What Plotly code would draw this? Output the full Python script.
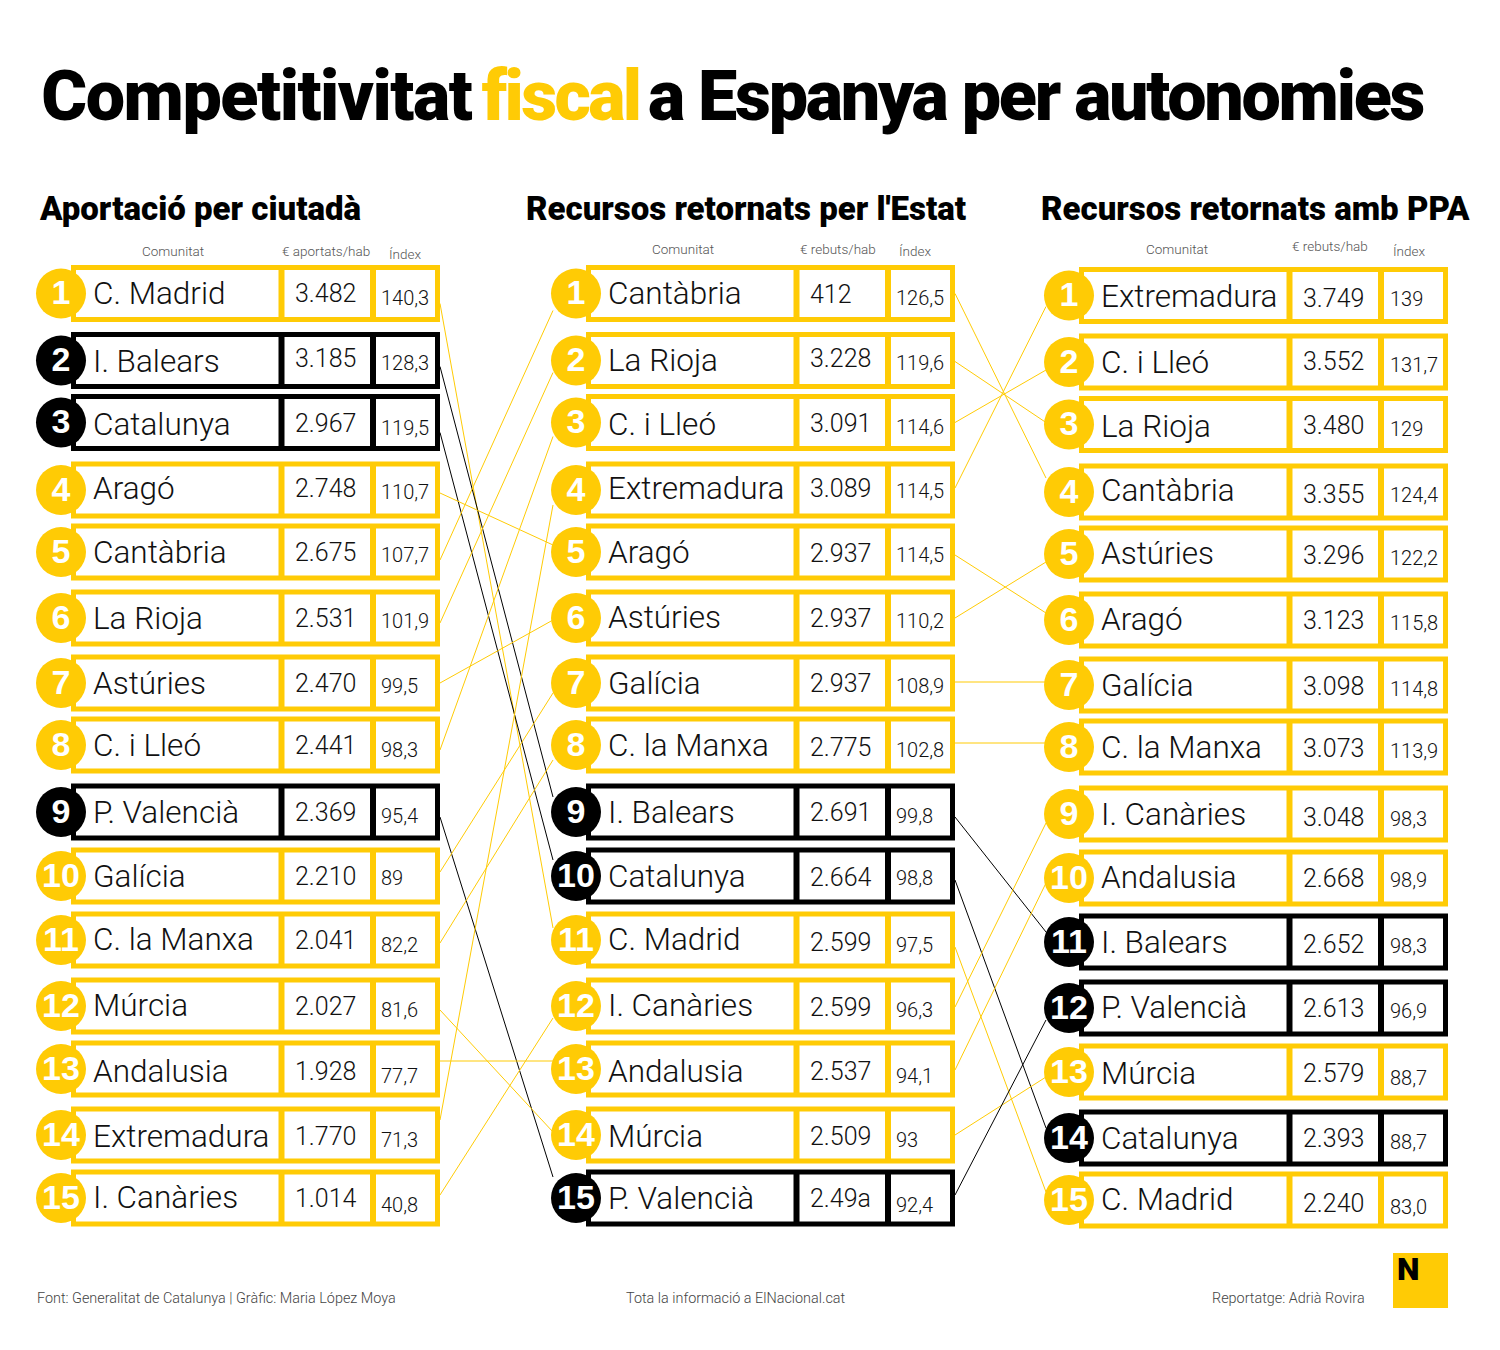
import plotly.graph_objects as go

YELLOW = "#FFCB05"
BLACK = "#000000"
HIGHLIGHT = ["I. Balears", "Catalunya", "P. Valencià"]

# --- data, one block per ranking ---
names_aport = ["C. Madrid", "I. Balears", "Catalunya", "Aragó", "Cantàbria", "La Rioja", "Astúries", "C. i Lleó",
               "P. Valencià", "Galícia", "C. la Manxa", "Múrcia", "Andalusia", "Extremadura", "I. Canàries"]
values_aport = ["3.482", "3.185", "2.967", "2.748", "2.675", "2.531", "2.470", "2.441",
                "2.369", "2.210", "2.041", "2.027", "1.928", "1.770", "1.014"]
index_aport = ["140,3", "128,3", "119,5", "110,7", "107,7", "101,9", "99,5", "98,3",
               "95,4", "89", "82,2", "81,6", "77,7", "71,3", "40,8"]

names_estat = ["Cantàbria", "La Rioja", "C. i Lleó", "Extremadura", "Aragó", "Astúries", "Galícia", "C. la Manxa",
               "I. Balears", "Catalunya", "C. Madrid", "I. Canàries", "Andalusia", "Múrcia", "P. Valencià"]
values_estat = ["412", "3.228", "3.091", "3.089", "2.937", "2.937", "2.937", "2.775",
                "2.691", "2.664", "2.599", "2.599", "2.537", "2.509", "2.49a"]
index_estat = ["126,5", "119,6", "114,6", "114,5", "114,5", "110,2", "108,9", "102,8",
               "99,8", "98,8", "97,5", "96,3", "94,1", "93", "92,4"]

names_ppa = ["Extremadura", "C. i Lleó", "La Rioja", "Cantàbria", "Astúries", "Aragó", "Galícia", "C. la Manxa",
             "I. Canàries", "Andalusia", "I. Balears", "P. Valencià", "Múrcia", "Catalunya", "C. Madrid"]
values_ppa = ["3.749", "3.552", "3.480", "3.355", "3.296", "3.123", "3.098", "3.073",
              "3.048", "2.668", "2.652", "2.613", "2.579", "2.393", "2.240"]
index_ppa = ["139", "131,7", "129", "124,4", "122,2", "115,8", "114,8", "113,9",
             "98,3", "98,9", "98,3", "96,9", "88,7", "88,7", "83,0"]

# --- layout of the three tables, page pixels ---
row_y_1 = [293.5, 360.5, 422.5, 490, 552, 618, 683, 745, 812, 876, 940, 1006, 1069, 1135, 1198]
name_y_1 = [296, 364, 427, 491, 555, 621, 686, 748, 815, 879, 942, 1008, 1074, 1139, 1200]
value_y_1 = [296, 361, 426, 491, 555, 621, 686, 748, 815, 879, 943, 1009, 1074, 1139, 1201]
index_y_1 = [300, 365, 430, 494, 557, 623, 688, 752, 818, 880, 947, 1012, 1078, 1142, 1207]

row_y_2 = [293.5, 360.5, 422.5, 490, 552, 618, 683, 745, 812, 876, 940, 1006, 1069, 1135, 1198]
name_y_2 = [296, 363, 427, 491, 555, 620, 686, 748, 815, 879, 942, 1008, 1074, 1139, 1201]
value_y_2 = [297, 361, 426, 491, 556, 621, 686, 750, 815, 880, 945, 1010, 1074, 1139, 1201]
index_y_2 = [300, 365, 429, 493, 557, 623, 688, 752, 818, 880, 947, 1012, 1078, 1142, 1207]

row_y_3 = [295.5, 362, 424.5, 492, 554, 620, 685, 747, 814, 878, 942, 1008, 1072, 1138, 1200]
name_y_3 = [299, 365, 429, 493, 556, 622, 688, 750, 817, 880, 945, 1010, 1076, 1141, 1202]
value_y_3 = [301, 364, 428, 497, 558, 623, 689, 751, 820, 881, 947, 1011, 1076, 1141, 1206]
index_y_3 = [301, 367, 431, 497, 560, 625, 691, 753, 821, 882, 948, 1013, 1080, 1144, 1209]

# nudges for where each connector leaves / enters, by rank in the left table
start_nudge_1 = [10, 6, 10, 3, 8, 5, 0, 5, 5, -4, 3, 4, -8, -15, -3]
end_nudge_1 = [-12, -15, -16, -7, 17, 12, 2, 14, -21, 10, 15, -3, -8, 15, 12]
start_nudge_2 = [0, 1, 0, -2, 3, 0, -1, -2, 5, 4, 7, 1, 1, 0, -3]
end_nudge_2 = [-14, -2, 8, 11, -7, 8, -3, -4, -10, -10, -8, 9, 5, 5, 12]

tables = [
    dict(names=names_aport, values=values_aport, index=index_aport, left=73.5, circle=61, value_x=295, index_x=381,
         row_y=row_y_1, name_y=name_y_1, value_y=value_y_1, index_y=index_y_1),
    dict(names=names_estat, values=values_estat, index=index_estat, left=588.5, circle=576, value_x=810, index_x=896,
         row_y=row_y_2, name_y=name_y_2, value_y=value_y_2, index_y=index_y_2),
    dict(names=names_ppa, values=values_ppa, index=index_ppa, left=1081.5, circle=1069, value_x=1303, index_x=1390,
         row_y=row_y_3, name_y=name_y_3, value_y=value_y_3, index_y=index_y_3),
]
BOX_W = 364
BOX_H = 52
DIV1 = 208
DIV2 = 299.5

LIGHT = "Roboto"


def colour(name):
    return BLACK if name in HIGHLIGHT else YELLOW


fig = go.Figure()
shapes = []

# connectors go first so the circles sit on top of them
pairs = [(tables[0], tables[1], start_nudge_1, end_nudge_1), (tables[1], tables[2], start_nudge_2, end_nudge_2)]
for left, right, start_nudge, end_nudge in pairs:
    for i, name in enumerate(left["names"]):
        j = right["names"].index(name)
        fig.add_trace(go.Scatter(
            x=[left["left"] + BOX_W + 2.5, right["circle"] - 23],
            y=[left["row_y"][i] + start_nudge[i], right["row_y"][j] + end_nudge[i]],
            mode="lines",
            line=dict(color=colour(name), width=1),
            hoverinfo="skip",
        ))

for t in tables:
    for name, y in zip(t["names"], t["row_y"]):
        c = colour(name)
        x0 = t["left"]
        shapes.append(dict(type="rect", x0=x0, x1=x0 + BOX_W, y0=y - BOX_H / 2, y1=y + BOX_H / 2,
                           line=dict(color=c, width=5), fillcolor="white", layer="below"))
        for d in (DIV1, DIV2):
            shapes.append(dict(type="line", x0=x0 + d, x1=x0 + d, y0=y - BOX_H / 2, y1=y + BOX_H / 2,
                               line=dict(color=c, width=6), layer="below"))

    fig.add_trace(go.Scatter(
        x=[t["circle"]] * 15, y=t["row_y"], mode="markers",
        marker=dict(size=50, color=[colour(n) for n in t["names"]], line=dict(width=0)),
        hoverinfo="skip",
    ))
    # numbers sit a touch below the circle centre in the original
    fig.add_trace(go.Scatter(
        x=[t["circle"]] * 15, y=[y + 2 for y in t["row_y"]], mode="text",
        text=[str(i + 1) for i in range(15)], textposition="middle center",
        textfont=dict(family="Liberation Sans", size=34, color="white", weight=700),
        hoverinfo="skip",
    ))
    fig.add_trace(go.Scatter(
        x=[t["left"] + 19.5] * 15, y=t["name_y"], mode="text", text=t["names"], textposition="middle right",
        textfont=dict(family=LIGHT, size=31.5, color="#111111", weight=300), hovertemplate="%{text}<extra></extra>",
    ))
    fig.add_trace(go.Scatter(
        x=[t["value_x"]] * 15, y=t["value_y"], mode="text", text=t["values"], textposition="middle right",
        textfont=dict(family=LIGHT, size=25, color="#111111", weight=300), hovertemplate="%{text}<extra></extra>",
    ))
    fig.add_trace(go.Scatter(
        x=[t["index_x"]] * 15, y=t["index_y"], mode="text", text=t["index"], textposition="middle right",
        textfont=dict(family=LIGHT, size=20, color="#111111", weight=300), hovertemplate="%{text}<extra></extra>",
    ))

# logo square
shapes.append(dict(type="rect", x0=1393, x1=1448, y0=1253, y1=1308, fillcolor=YELLOW, line=dict(width=0), layer="below"))


def label(x, y, text, size, family=LIGHT, color="#000000", weight=400, anchor="center"):
    return dict(x=x, y=y, text=text, showarrow=False, xanchor=anchor, yanchor="middle", xref="x", yref="y",
                font=dict(family=family, size=size, color=color, weight=weight))


annotations = [
    label(256, 96, "Competitivitat", 70, LIGHT, BLACK, 900),
    label(560, 96, "fiscal", 70, LIGHT, YELLOW, 900),
    label(1035.5, 96, "a Espanya per autonomies", 70, LIGHT, BLACK, 900),
    label(199.5, 208, "Aportació per ciutadà", 33, LIGHT, BLACK, 900),
    label(746, 208, "Recursos retornats per l'Estat", 33, LIGHT, BLACK, 900),
    label(1255.5, 208, "Recursos retornats amb PPA", 33, LIGHT, BLACK, 900),
    label(173, 251, "Comunitat", 13.5, LIGHT, "#555555", 300),
    label(326, 251, "€ aportats/hab", 13.5, LIGHT, "#555555", 300),
    label(405, 254, "Índex", 13.5, LIGHT, "#555555", 300),
    label(683, 249, "Comunitat", 13.5, LIGHT, "#555555", 300),
    label(838, 249, "€ rebuts/hab", 13.5, LIGHT, "#555555", 300),
    label(915, 251, "Índex", 13.5, LIGHT, "#555555", 300),
    label(1177, 249, "Comunitat", 13.5, LIGHT, "#555555", 300),
    label(1330, 246, "€ rebuts/hab", 13.5, LIGHT, "#555555", 300),
    label(1409, 251, "Índex", 13.5, LIGHT, "#555555", 300),
    label(35, 1298, "Font: Generalitat de Catalunya | Gràfic: Maria López Moya", 14.4, LIGHT, "#444444", 300, "left"),
    label(624, 1298, "Tota la informació a ElNacional.cat", 14.4, LIGHT, "#444444", 300, "left"),
    label(1210, 1298, "Reportatge: Adrià Rovira", 14.4, LIGHT, "#444444", 300, "left"),
    label(1408, 1269, "N", 32, LIGHT, BLACK, 900),
]

fig.update_layout(
    width=1500,
    height=1350,
    margin=dict(l=0, r=0, t=0, b=0),
    paper_bgcolor="white",
    plot_bgcolor="white",
    showlegend=False,
    xaxis=dict(range=[0, 1500], visible=False, fixedrange=True),
    yaxis=dict(range=[1350, 0], visible=False, fixedrange=True),
    shapes=shapes,
    annotations=annotations,
)

# plotly has no letter spacing setting, the title in the original is set very tight
post = """
document.body.style.margin = '0';
var tight = {'Competitivitat': -1.45, 'fiscal': -2.6, 'a Espanya per autonomies': -2.25};
document.querySelectorAll('.annotation-text').forEach(function (t) {
    if (tight[t.textContent] !== undefined) { t.style.letterSpacing = tight[t.textContent] + 'px'; }
});
"""
fig.write_html("out.html", post_script=post, config=dict(displayModeBar=False))
